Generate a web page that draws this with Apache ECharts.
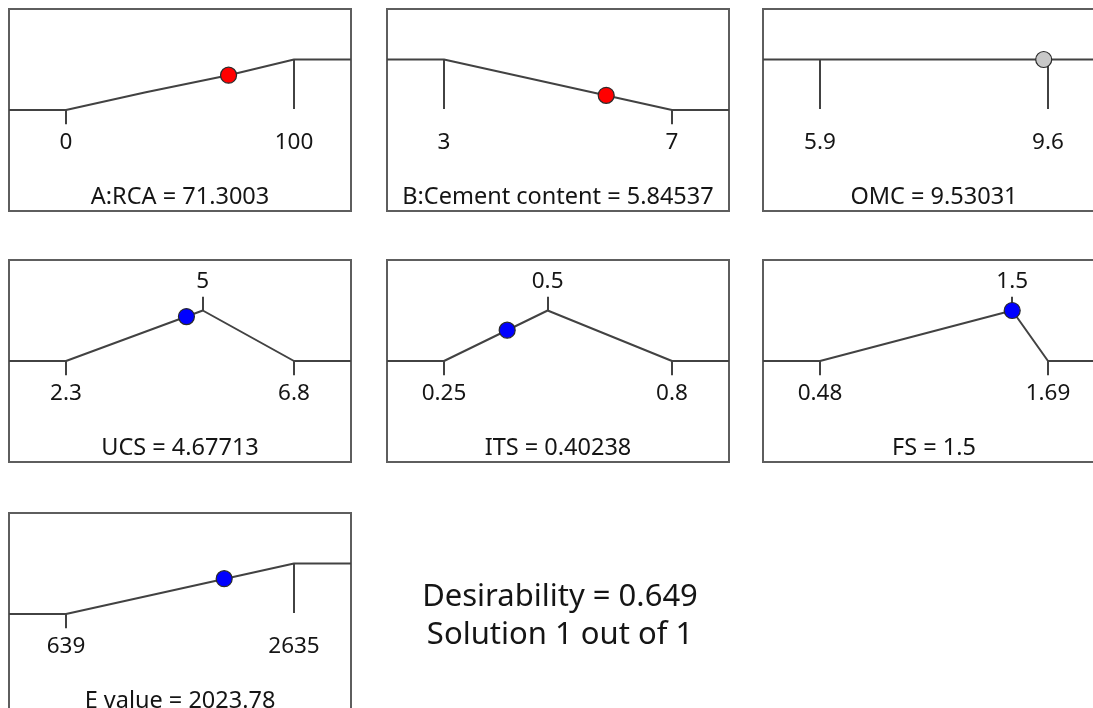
<!DOCTYPE html>
<html><head><meta charset="utf-8">
<script src="https://cdn.jsdelivr.net/npm/echarts@6/dist/echarts.min.js"></script>
<style>html,body{margin:0;padding:0;background:#fff}#c{width:1093px;height:708px}</style>
</head><body><div id="c"></div>
<script>
// ---- data ----
const panelLabels = ['A:RCA = 71.3003', 'B:Cement content = 5.84537', 'OMC = 9.53031',
  'UCS = 4.67713', 'ITS = 0.40238', 'FS = 1.5', 'E value = 2023.78'];
const lowLimits = [0, 3, 5.9, 2.3, 0.25, 0.48, 639];
const highLimits = [100, 7, 9.6, 6.8, 0.8, 1.69, 2635];
const targets = [null, null, null, 5, 0.5, 1.5, null];
const goals = ['maximize', 'minimize', 'range', 'target', 'target', 'target', 'maximize'];
const solutionValues = [71.3003, 5.84537, 9.53031, 4.67713, 0.40238, 1.5, 2023.78];
const solutionDesirability = [0.69, 0.29, 1, 0.88, 0.61, 1, 0.70];
const pointKinds = ['factor', 'factor', 'fixed', 'response', 'response', 'response', 'response'];
const curve1 = [[0, 0], [35, 0.35], [71.3003, 0.69], [100, 1]];
const curve2 = [[3, 1], [7, 0]];
const curve3 = [[5.9, 1], [9.6, 1]];
const curve4 = [[2.3, 0], [5, 1], [6.8, 0]];
const curve5 = [[0.25, 0], [0.5, 1], [0.8, 0]];
const curve6 = [[0.48, 0], [1.5, 1], [1.69, 0]];
const curve7 = [[639, 0], [2635, 1]];
const curves = [curve1, curve2, curve3, curve4, curve5, curve6, curve7];
const desirabilityText = 'Desirability = 0.649';
const solutionText = 'Solution 1 out of 1';

// ---- layout / style ----
const boxes = [[9, 9], [387, 9], [763, 9], [9, 260], [387, 260], [763, 260], [9, 513]];
const boxW = 342, boxH = 202;
const kindColor = { factor: '#ff0000', fixed: '#c8c8c8', response: '#0000ff' };
const FONT = '"Noto Sans", "Open Sans", sans-serif';
const TXT = '#151515';
const LINE = '#424242';

const grid = [], xAxis = [], yAxis = [], series = [], title = [];
curves.forEach((curve, i) => {
  const lo = lowLimits[i], hi = highLimits[i], span = hi - lo;
  const xmin = lo - 0.25 * span, xmax = hi + 0.25 * span;
  grid.push({ left: boxes[i][0], top: boxes[i][1], width: boxW, height: boxH,
    show: true, borderColor: '#5e5e5e', borderWidth: 2, backgroundColor: 'transparent',
    containLabel: false, outerBoundsMode: 'none' });
  xAxis.push({ gridIndex: i, type: 'value', min: xmin, max: xmax, show: false });
  yAxis.push({ gridIndex: i, type: 'value', min: -2, max: 2, show: false });

  const full = [[xmin, curve[0][1]]].concat(curve, [[xmax, curve[curve.length - 1][1]]]);
  series.push({ type: 'line', xAxisIndex: i, yAxisIndex: i, data: full, symbol: 'none',
    lineStyle: { color: LINE, width: 2 }, silent: true, z: 2 });

  const dAt = x => { const p = curve.find(q => q[0] === x); return p ? p[1] : 0; };
  const ticks = [], labels = [];
  [lo, hi].forEach(x => {
    const d = dAt(x);
    const to = d === 1 ? 0.02 : -0.28;
    ticks.push({ coords: [[x, d], [x, to]] });
    labels.push({ value: [x, -0.65], name: String(x) });
  });
  if (targets[i] !== null) {
    const t = targets[i];
    ticks.push({ coords: [[t, 1], [t, 1.27]] });
    labels.push({ value: [t, 1.58], name: String(t) });
  }
  series.push({ type: 'lines', coordinateSystem: 'cartesian2d', xAxisIndex: i, yAxisIndex: i,
    data: ticks, lineStyle: { color: LINE, width: 2, opacity: 1 }, silent: true, z: 2 });
  series.push({ type: 'scatter', xAxisIndex: i, yAxisIndex: i, data: labels, symbolSize: 1,
    itemStyle: { color: 'rgba(0,0,0,0)', opacity: 1 }, silent: true,
    label: { show: true, position: 'inside', formatter: p => p.name, opacity: 1,
      color: TXT, fontSize: 22.5, fontFamily: FONT, textBorderWidth: 0 } });
  series.push({ type: 'scatter', xAxisIndex: i, yAxisIndex: i,
    data: [[solutionValues[i], solutionDesirability[i]]], symbolSize: 16, z: 5,
    itemStyle: { color: kindColor[pointKinds[i]], borderColor: '#2a2a2a', borderWidth: 1.2, opacity: 1 } });
  title.push({ text: panelLabels[i], left: boxes[i][0] + boxW / 2, top: boxes[i][1] + 176,
    textAlign: 'center', padding: 0,
    textStyle: { fontSize: 23.5, fontWeight: 'normal', color: TXT, fontFamily: FONT } });
});
title.push({ text: desirabilityText + '\n' + solutionText, left: 560, top: 578,
  textAlign: 'center', padding: 0,
  textStyle: { fontSize: 31, lineHeight: 38, fontWeight: 'normal', color: TXT, fontFamily: FONT } });

const chart = echarts.init(document.getElementById('c'), null, { renderer: 'canvas' });
chart.setOption({ animation: false, backgroundColor: '#fff', title, grid, xAxis, yAxis, series });
</script></body></html>
